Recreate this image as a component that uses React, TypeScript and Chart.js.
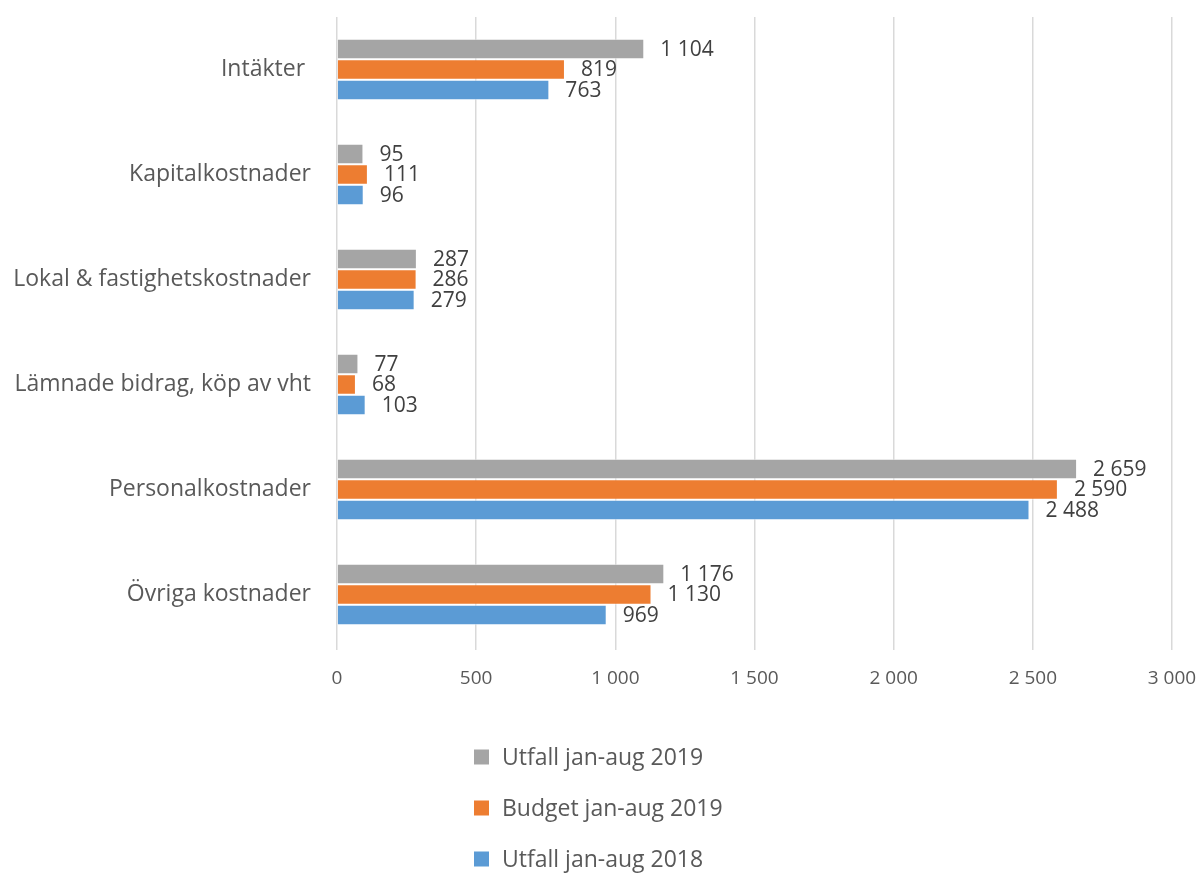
import React, { useEffect, useRef } from "react";
import { Chart, registerables } from "chart.js";

Chart.register(...registerables);

const categories = [
  "Intäkter ",
  "Kapitalkostnader",
  "Lokal & fastighetskostnader",
  "Lämnade bidrag, köp av vht",
  "Personalkostnader",
  "Övriga kostnader",
];
const seriesNames = ["Utfall jan-aug 2019", "Budget jan-aug 2019", "Utfall jan-aug 2018"];
const utfall2019 = [1104, 95, 287, 77, 2659, 1176];
const budget2019 = [819, 111, 286, 68, 2590, 1130];
const utfall2018 = [763, 96, 279, 103, 2488, 969];
const xTicks = [0, 500, 1000, 1500, 2000, 2500, 3000];

const colors = ["#A5A5A5", "#ED7D31", "#5B9BD5"];
const FONT = "'Open Sans', sans-serif";

const fmt = (v: number) => String(v).replace(/\B(?=(\d{3})+(?!\d))/g, " ");

const dataLabelPlugin = {
  id: "dataLabels",
  afterDatasetsDraw(chart: any) {
    const ctx = chart.ctx;
    ctx.save();
    ctx.font = `21px ${FONT}`;
    ctx.fillStyle = "#404040";
    ctx.textAlign = "left";
    ctx.textBaseline = "middle";
    chart.data.datasets.forEach((ds: any, i: number) => {
      const meta = chart.getDatasetMeta(i);
      meta.data.forEach((bar: any, j: number) => {
        ctx.fillText(fmt(ds.data[j]), bar.x + 16, bar.y + 1);
      });
    });
    ctx.restore();
  },
};

const legendPlugin = {
  id: "customLegend",
  afterDraw(chart: any) {
    const ctx = chart.ctx;
    const area = chart.chartArea;
    ctx.save();
    ctx.font = `23px ${FONT}`;
    ctx.textAlign = "left";
    ctx.textBaseline = "middle";
    chart.data.datasets.forEach((ds: any, i: number) => {
      const cy = area.bottom + 110 + i * 51;
      ctx.fillStyle = ds.backgroundColor;
      ctx.fillRect(474, cy - 7.5, 15, 15);
      ctx.fillStyle = "#595959";
      ctx.fillText(ds.label, 502, cy + 1);
    });
    ctx.restore();
  },
};

export default function App() {
  const ref = useRef<HTMLCanvasElement>(null);
  useEffect(() => {
    if (!ref.current) return;
    const seriesData = [utfall2019, budget2019, utfall2018];
    const chart = new Chart(ref.current, {
      type: "bar",
      data: {
        labels: categories,
        datasets: seriesNames.map((name, i) => ({
          label: name,
          data: seriesData[i],
          backgroundColor: colors[i],
          borderColor: "rgba(255,255,255,0.6)",
          borderWidth: 1,
          categoryPercentage: 0.585,
          barPercentage: 1,
        })),
      },
      options: {
        indexAxis: "y",
        animation: false,
        responsive: false,
        maintainAspectRatio: false,
        layout: { padding: { top: 17, right: 31, bottom: 176, left: 0 } },
        plugins: { legend: { display: false }, tooltip: { enabled: false } },
        scales: {
          x: {
            min: 0,
            max: 3000,
            afterBuildTicks: (scale: any) => {
              scale.ticks = xTicks.map((v) => ({ value: v }));
            },
            afterFit: (scale: any) => {
              scale.height = 50;
              scale.paddingLeft = 0;
              scale.paddingRight = 0;
            },
            grid: { color: "#D9D9D9", lineWidth: 1.5, drawTicks: true, tickLength: 3 },
            border: { display: false },
            ticks: {
              color: "#595959",
              font: { family: FONT, size: 19 },
              padding: 17,
              maxRotation: 0,
              callback: (v: any) => fmt(Number(v)),
            },
          },
          y: {
            afterFit: (scale: any) => {
              scale.width = 337;
              scale.paddingTop = 0;
              scale.paddingBottom = 0;
            },
            grid: { display: false, drawTicks: false },
            border: { display: false },
            ticks: {
              color: "#595959",
              font: { family: FONT, size: 23 },
              padding: 26,
            },
          },
        },
      },
      plugins: [dataLabelPlugin, legendPlugin],
    } as any);
    return () => chart.destroy();
  }, []);
  return (
    <div style={{ position: "absolute", left: 0, top: 0, width: 1203, height: 873, background: "#fff" }}>
      <canvas ref={ref} width={1203} height={873} style={{ width: 1203, height: 873 }} />
    </div>
  );
}
